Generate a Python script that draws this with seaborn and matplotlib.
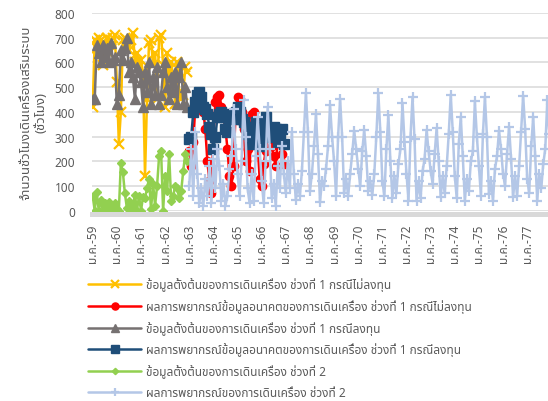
import numpy as np
import pandas as pd
import matplotlib
matplotlib.use("Agg")
import matplotlib.pyplot as plt
from matplotlib import font_manager
import seaborn as sns

# ---------------------------------------------------------------- data
thai_months = ["ม.ค.", "ก.พ.", "มี.ค.", "เม.ย.", "พ.ค.", "มิ.ย.",
               "ก.ค.", "ส.ค.", "ก.ย.", "ต.ค.", "พ.ย.", "ธ.ค."]
years = list(range(59, 78))

# period 1, no investment (initial data), ม.ค.-59 .. ธ.ค.-62
base_no_invest = [420, 690, 660, 700, 690, 590, 680, 700, 640, 690, 700, 710,
                  520, 270, 400, 690, 700, 690, 650, 690, 720, 600, 640, 580,
                  610, 560, 140, 450, 680, 690, 590, 640, 450, 700, 710, 590,
                  420, 640, 500, 600, 540, 430, 600, 480, 450, 470, 580, 560]

# period 1, with investment (initial data), ม.ค.-59 .. ธ.ค.-62
base_invest = [450, 450, 670, 640, 600, 670, 620, 660, 600, 680, 610, 620,
               430, 470, 650, 610, 660, 700, 560, 600, 540, 450, 580, 560,
               520, 420, 560, 480, 600, 430, 540, 470, 580, 430, 470, 560,
               600, 500, 450, 540, 480, 560, 430, 540, 600, 430, 500, 420]

# period 2 (initial data), ม.ค.-59 .. ธ.ค.-62
base_p2 = [60, 0, 75, 0, 45, 0, 30, 0, 35, 15, 0, 30,
           5, 0, 195, 155, 70, 10, 40, 0, 20, 65, 0, 60,
           0, 55, 50, 90, 130, 5, 110, 20, 100, 220, 240, 0,
           140, 80, 230, 40, 60, 100, 90, 50, 80, 160, 230, 200]

# period 1 forecasts, ม.ค.-63 .. ธ.ค.-66
fc_no_invest = [240, 180, 280, 420, 470, 460, 430, 400, 330, 200, 120, 70,
                300, 440, 460, 470, 420, 380, 330, 250, 140, 100, 180, 390,
                460, 450, 400, 330, 200, 250, 160, 390, 400, 330, 270, 130,
                100, 190, 240, 300, 310, 260, 220, 180, 290, 300, 230, 190]

fc_invest = [290, 300, 400, 440, 470, 480, 460, 420, 410, 390, 340, 310,
             250, 300, 380, 390, 400, 380, 330, 320, 370, 390, 370, 400,
             420, 400, 370, 360, 340, 310, 270, 300, 340, 360, 320, 260,
             300, 360, 380, 330, 310, 300, 340, 330, 280, 300, 330, 270]

# period 2 forecast, ม.ค.-63 .. ธ.ค.-77
fc_p2 = [100, 250, 60, 320, 150, 30, 90, 20, 130, 60, 180, 30,
         210, 90, 250, 180, 40, 110, 20, 60, 170, 220, 410, 250,
         150, 60, 200, 446, 300, 90, 30, 150, 40, 220, 380, 250,
         120, 30, 200, 420, 250, 50, 110, 20, 180, 90, 260, 150,
         70, 200, 90, 320, 150, 43, 110, 60, 160, 320, 477, 320,
         80, 150, 260, 392, 230, 36, 120, 100, 170, 260, 426, 300,
         200, 61, 300, 453, 300, 72, 130, 60, 150, 230, 324, 250,
         170, 100, 240, 327, 220, 80, 120, 63, 150, 300, 477, 320,
         120, 60, 250, 388, 200, 50, 140, 70, 190, 250, 437, 280,
         150, 40, 300, 460, 290, 40, 120, 50, 160, 210, 327, 240,
         160, 110, 230, 335, 200, 55, 140, 70, 180, 310, 470, 320,
         140, 50, 270, 381, 220, 40, 130, 80, 200, 240, 442, 300,
         180, 61, 310, 460, 300, 68, 120, 40, 170, 220, 324, 250,
         150, 100, 230, 340, 210, 55, 140, 60, 180, 320, 466, 330,
         130, 70, 260, 380, 220, 40, 150, 90, 190, 250, 446, 310]

labels = [
    "ข้อมูลตั้งต้นของการเดินเครื่อง ช่วงที่ 1 กรณีไม่ลงทุน",
    "ผลการพยากรณ์ข้อมูลอนาคตของการเดินเครื่อง ช่วงที่ 1 กรณีไม่ลงทุน",
    "ข้อมูลตั้งต้นของการเดินเครื่อง ช่วงที่ 1 กรณีลงทุน",
    "ผลการพยากรณ์ข้อมูลอนาคตของการเดินเครื่อง ช่วงที่ 1 กรณีลงทุน",
    "ข้อมูลตั้งต้นของการเดินเครื่อง ช่วงที่ 2",
    "ผลการพยากรณ์ของการเดินเครื่อง ช่วงที่ 2",
]
y_title = "จำนวนชั่วโมงเดินเครื่องเสริมระบบ\n(ชั่วโมง)"

# --------------------------------------------------------------- fonts
def find_thai_family():
    from fontTools.ttLib import TTFont
    found = []
    for fe in font_manager.fontManager.ttflist:
        try:
            f = TTFont(fe.fname, fontNumber=0, lazy=True)
            cmap = f.getBestCmap() or {}
            if 0x0E01 in cmap and 0x0E48 in cmap and 0x0E35 in cmap:
                found.append(fe.name)
        except Exception:
            continue
    prefs = ["Tahoma", "Leelawadee UI", "Leelawadee", "Noto Sans Thai",
             "Noto Sans Thai UI", "Sarabun", "Loma", "Garuda", "Waree",
             "Umpush", "Norasi", "Kinnari"]
    for p in prefs:
        if p in found:
            return p
    return found[0] if found else None

sns.set_style("white")
thai = find_thai_family()
families = ([thai] if thai else []) + ["DejaVu Sans"]
plt.rcParams["font.family"] = families

# ---------------------------------------------------------- long table
categories = [f"{m}-{y}" for y in years for m in thai_months]
n = len(categories)
pos = np.arange(n)

def place(values, start):
    col = np.full(n, np.nan)
    col[start:start + len(values)] = values
    return col

start_fc = categories.index("ม.ค.-63")
df = pd.DataFrame({"pos": pos, "month": categories})
series = [
    (labels[0], place(base_no_invest, 0), "#FFC000", "x", 6.5, 1.6),
    (labels[1], place(fc_no_invest, start_fc), "#FF0000", "o", 6.0, 1.0),
    (labels[2], place(base_invest, 0), "#767171", "^", 6.5, 1.0),
    (labels[3], place(fc_invest, start_fc), "#1F4E79", "s", 6.5, 1.0),
    (labels[4], place(base_p2, 0), "#92D050", "D", 3.8, 1.0),
    (labels[5], place(fc_p2, start_fc), "#B4C7E7", "+", 7.5, 1.6),
]

# -------------------------------------------------------------- figure
fig = plt.figure(figsize=(5.48, 4.02), dpi=100)
W, H = 548, 402
ax_left, ax_right, ax_top, ax_bot = 91.7, 550.3, 14.0, 211.7
ax = fig.add_axes([ax_left / W, 1 - ax_bot / H,
                   (ax_right - ax_left) / W, (ax_bot - ax_top) / H])

handles = []
for name, vals, color, mk, ms, mew in series:
    df[name] = vals
    sns.lineplot(data=df, x="pos", y=name, ax=ax, color=color, lw=1.8,
                 marker=mk, markersize=ms, markeredgewidth=mew,
                 markeredgecolor=color, markerfacecolor=color,
                 label=name, legend=False)
    handles.append(ax.lines[-1])

ax.set_xlim(-0.5, n - 0.5)
ax.set_ylim(0, 800)
ax.set_yticks(range(0, 801, 100))
ax.set_xticks(range(0, n, 12))
ax.set_xticklabels([categories[i] for i in range(0, n, 12)])
ax.set_xlabel("")
ax.set_ylabel(y_title, color="#595959", fontsize=9.5, labelpad=5,
              linespacing=1.25)

ax.grid(axis="y", color="#D9D9D9", lw=1.1)
ax.set_axisbelow(True)
for s in ["left", "right", "top"]:
    ax.spines[s].set_visible(False)
ax.spines["bottom"].set_color("#D9D9D9")
ax.spines["bottom"].set_linewidth(3.6)
ax.spines["bottom"].set_position(("outward", 2.5))
ax.tick_params(axis="both", length=0, colors="#595959", labelsize=8.5)
ax.tick_params(axis="y", pad=12)
ax.tick_params(axis="x", pad=7, labelrotation=90)

leg = fig.legend(handles, labels, loc="upper left",
                 bbox_to_anchor=(80 / W, 1 - 270 / H),
                 bbox_transform=fig.transFigure, frameon=False,
                 fontsize=8.5, handlelength=4.5, handletextpad=0.4,
                 labelspacing=0.66, numpoints=1, borderpad=0.2,
                 markerscale=0.85)
for t in leg.get_texts():
    t.set_color("#595959")

fig.savefig("out.png", dpi=100)
